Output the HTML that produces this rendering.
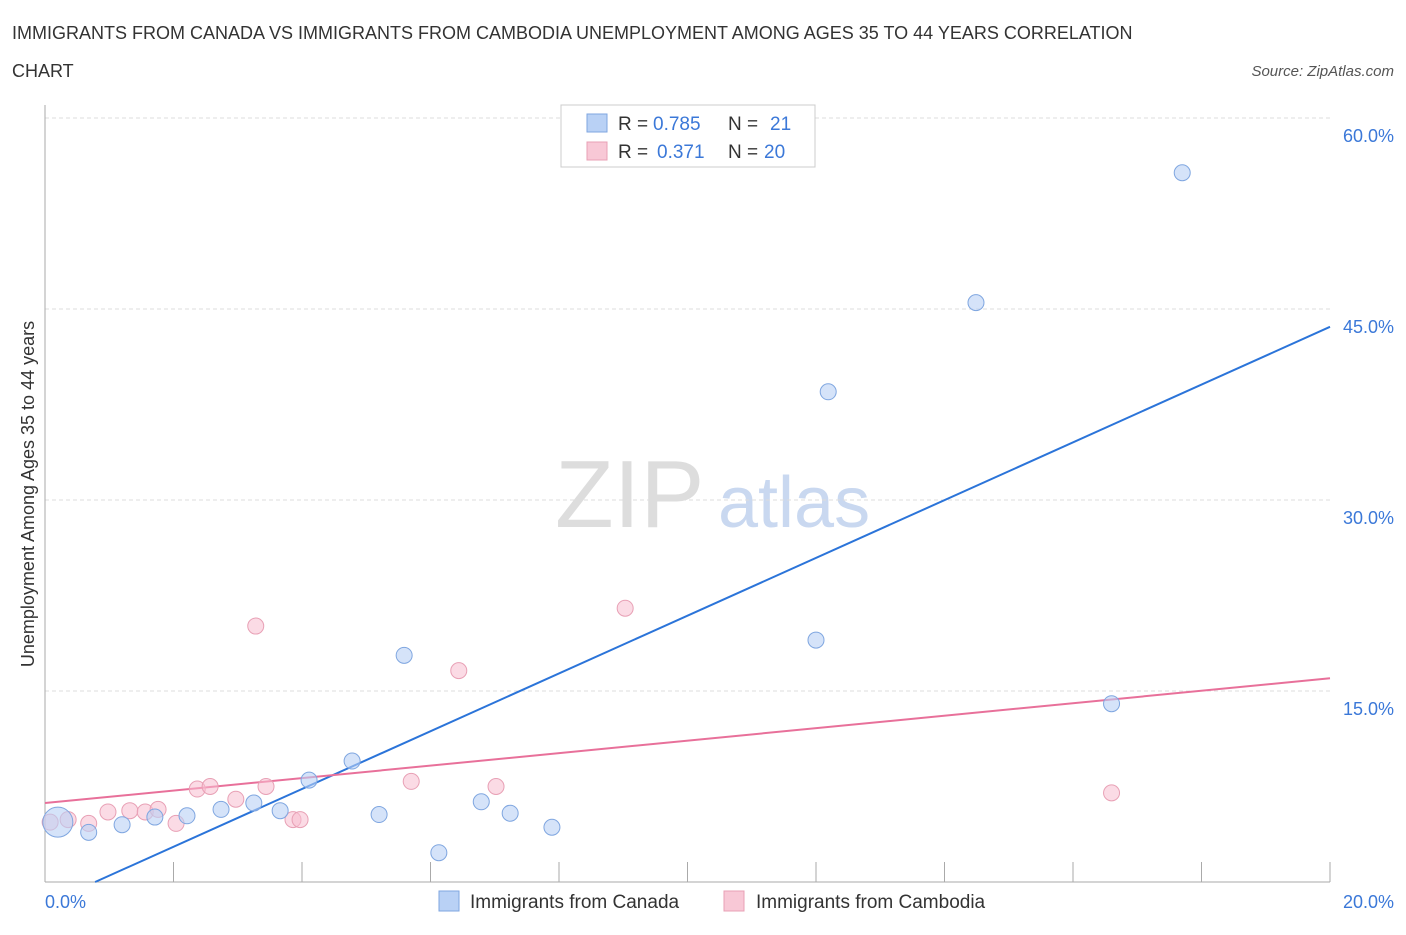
<!DOCTYPE html>
<html><head><meta charset="utf-8">
<style>
body{margin:0;background:#fff;font-family:"Liberation Sans",sans-serif;}
svg text{font-family:"Liberation Sans",sans-serif;}
</style></head>
<body>
<svg id="chart" width="1406" height="930" xmlns="http://www.w3.org/2000/svg">
<text x="12" y="39" font-size="18" fill="#333">IMMIGRANTS FROM CANADA VS IMMIGRANTS FROM CAMBODIA UNEMPLOYMENT AMONG AGES 35 TO 44 YEARS CORRELATION</text>
<text x="12" y="77" font-size="18" fill="#333">CHART</text>
<text x="1394" y="76" font-size="15" fill="#555" text-anchor="end" font-style="italic">Source: ZipAtlas.com</text>
<text x="555" y="527" font-size="96" fill="#ddd" font-family="Liberation Serif">ZIP</text>
<text x="718" y="527" font-size="72" fill="#c9d8f0">atlas</text>
<g id="grid"></g>
<line x1="45" y1="105" x2="45" y2="882" stroke="#aaa"/>
<line x1="45" y1="882" x2="1330" y2="882" stroke="#aaa"/>
<text transform="translate(34,494) rotate(-90)" font-size="18" fill="#333" text-anchor="middle">Unemployment Among Ages 35 to 44 years</text>
<text x="45" y="908" font-size="18" fill="#3b78d8">0.0%</text>
<text x="1394" y="908" font-size="18" fill="#3b78d8" text-anchor="end">20.0%</text>
<g id="lines"></g>
<g id="points"></g>
<g>
<rect x="561" y="105" width="254" height="62" fill="#fff" stroke="#ccc"/>
<rect x="587" y="114" width="20" height="18" fill="#b9d1f5" stroke="#7fa6e0"/>
<text x="618" y="130" font-size="19" fill="#333">R = </text><text x="653" y="130" font-size="19" fill="#3b78d8">0.785</text>
<text x="728" y="130" font-size="19" fill="#333">N = </text><text x="770" y="130" font-size="19" fill="#3b78d8">21</text>
<rect x="587" y="142" width="20" height="18" fill="#f8c8d6" stroke="#e8a0b5"/>
<text x="618" y="158" font-size="19" fill="#333">R = </text><text x="657" y="158" font-size="19" fill="#3b78d8">0.371</text>
<text x="728" y="158" font-size="19" fill="#333">N = </text><text x="764" y="158" font-size="19" fill="#3b78d8">20</text>
</g>
<g>
<rect x="439" y="891" width="20" height="20" fill="#b9d1f5" stroke="#7fa6e0"/>
<text x="470" y="908" font-size="19" fill="#333">Immigrants from Canada</text>
<rect x="724" y="891" width="20" height="20" fill="#f8c8d6" stroke="#e8a0b5"/>
<text x="756" y="908" font-size="19" fill="#333">Immigrants from Cambodia</text>
</g>
</svg>
<script>
const yTicks=[15,30,45,60];
const yTickLabels=["15.0%","30.0%","45.0%","60.0%"];
const xTicks=[0,2,4,6,8,10,12,14,16,18,20];
const canadaX=[0.2,0.68,1.2,1.71,2.21,2.74,3.25,3.66,4.11,4.78,5.2,5.59,6.13,6.79,7.24,7.89,12.0,12.19,14.49,16.6,17.7];
const canadaY=[4.7,3.9,4.5,5.1,5.2,5.7,6.2,5.6,8.0,9.5,5.3,17.8,2.3,6.3,5.4,4.3,19.0,38.5,45.5,14.0,55.7];
const cambodiaX=[0.08,0.36,0.68,0.98,1.32,1.56,1.76,2.04,2.37,2.57,2.97,3.28,3.44,3.86,3.97,5.7,6.44,7.02,9.03,16.6];
const cambodiaY=[4.7,4.9,4.6,5.5,5.6,5.5,5.7,4.6,7.3,7.5,6.5,20.1,7.5,4.9,4.9,7.9,16.6,7.5,21.5,7.0];
const canadaTrend=[0.78,0,20,43.6];
const cambodiaTrend=[0,6.2,20,16.0];
const NS="http://www.w3.org/2000/svg";
const X=v=>45+v/20*1285, Y=v=>882-v/15*191;
function mk(tag,attrs,parent){const e=document.createElementNS(NS,tag);for(const k in attrs)e.setAttribute(k,attrs[k]);parent.appendChild(e);return e;}
const grid=document.getElementById('grid');
yTicks.forEach((t,i)=>{
 const l=mk('line',{x1:45,x2:1330,y1:Y(t),y2:Y(t),stroke:'#ddd','stroke-dasharray':'4,3'},grid);
 
 
 const tx=mk('text',{x:1394,y:Y(t)+24,'font-size':18,fill:'#3b78d8','text-anchor':'end'},grid);
 tx.textContent=yTickLabels[i];
 
 
});
xTicks.forEach(t=>{
 const l=mk('line',{x1:X(t),x2:X(t),y1:862,y2:882,stroke:'#aaa'},grid);
 
 
});
const lines=document.getElementById('lines');
const bl=mk('line',{x1:X(canadaTrend[0]),y1:Y(canadaTrend[1]),x2:X(canadaTrend[2]),y2:Y(canadaTrend[3]),stroke:'#2b74d9','stroke-width':2},lines);


const pl=mk('line',{x1:X(cambodiaTrend[0]),y1:Y(cambodiaTrend[1]),x2:X(cambodiaTrend[2]),y2:Y(cambodiaTrend[3]),stroke:'#e8709a','stroke-width':2},lines);


const pts=document.getElementById('points');
cambodiaX.forEach((x,i)=>{
 const c=mk('circle',{cx:X(x),cy:Y(cambodiaY[i]),r:8,fill:'rgba(248,190,208,0.55)',stroke:'#e8a0b5'},pts);
 
 
});
canadaX.forEach((x,i)=>{
 const c=mk('circle',{cx:X(x),cy:Y(canadaY[i]),r:i===0?15:8,fill:'rgba(185,209,245,0.6)',stroke:'#7fa6e0'},pts);
 
 
});
</script>
</body></html>
